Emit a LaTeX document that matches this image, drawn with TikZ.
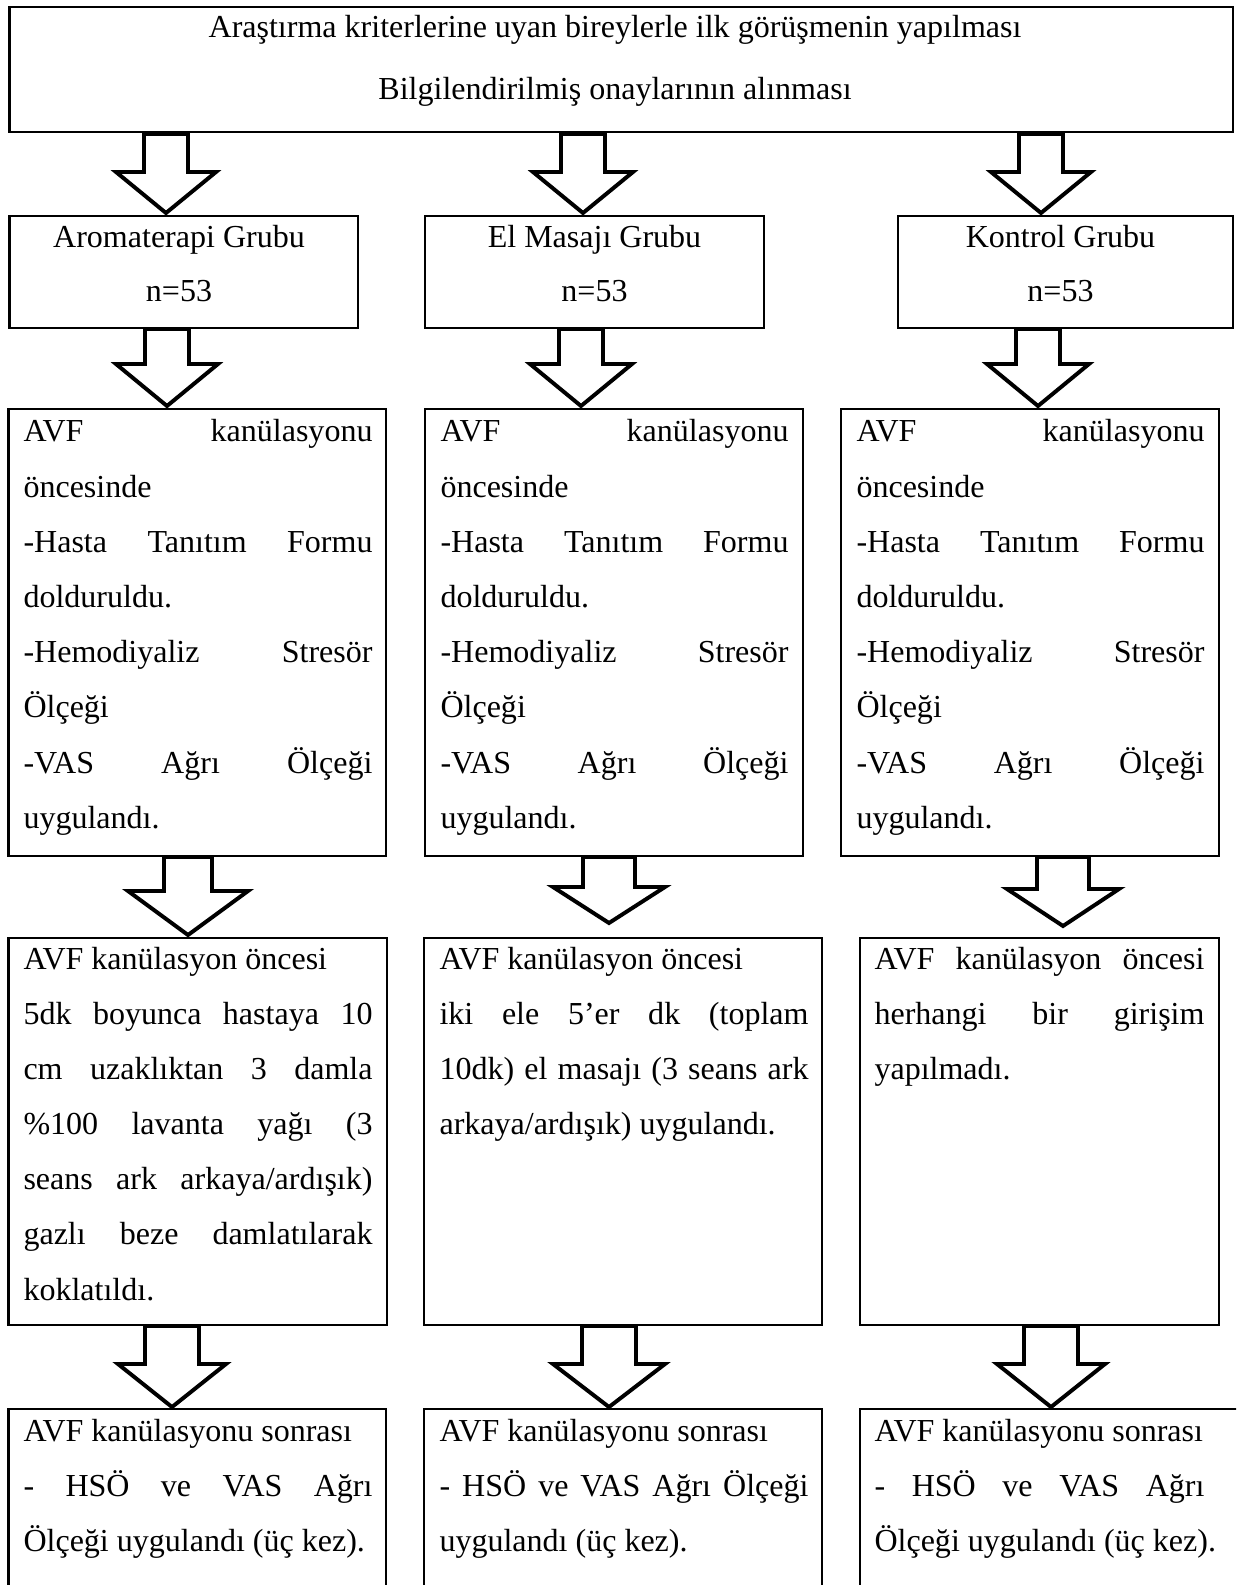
\documentclass[tikz,border=0pt]{standalone}
\usepackage{fontspec}
\setmainfont{Liberation Serif}
\usetikzlibrary{fit}
\newlength\px
\setlength\px{0.381pt}
\newcommand\jl[1]{\hbox to\hsize{\spaceskip=0pt plus 1fil\relax #1}}
\newcommand\nl[1]{\hbox{#1}}
\newcommand\txtblock[2]{\vtop{\hsize=#1\px\relax #2}}
% x, top, shoulder, tip, shaft half width, head half width
\newcommand\barrow[6]{%
  \draw[arrowst] ({#1-#5},#2) -- ({#1+#5},#2) -- ({#1+#5},#3) -- ({#1+#6},#3)
    -- (#1,#4) -- ({#1-#6},#3) -- ({#1-#5},#3) -- cycle;}
\tikzset{
  boxst/.style={draw=black, line width=1pt, inner sep=0pt, fill=white},
  arrowst/.style={draw=black, line width=1.5pt, fill=white},
  txt/.style={inner sep=0pt, font=\fontsize{12.2pt}{21.03pt}\selectfont},
}
\begin{document}
\begin{tikzpicture}[x=0.381pt, y=-0.381pt]
\useasboundingbox (0,0) rectangle (1236,1585);
\clip (0,0) rectangle (1236,1585);
\fill[white] (0,0) rectangle (1236,1585);

% top box
\node[boxst, fit={(9.5,7) (1233,132)}] (topbox) {};
\node[txt, anchor=base] (top1) at (615,38) {Araştırma kriterlerine uyan bireylerle ilk görüşmenin yapılması};
\node[txt, anchor=base] (top2) at (615,100) {Bilgilendirilmiş onaylarının alınması};

% group boxes
\node[boxst, fit={(9.5,216) (358,328)}] (g1) {};
\node[boxst, fit={(425,216) (764,328)}] (g2) {};
\node[boxst, fit={(898,216) (1233,328)}] (g3) {};
\node[txt, anchor=base] (g1a) at (179,248) {Aromaterapi Grubu};
\node[txt, anchor=base] (g1b) at (179,302) {n=53};
\node[txt, anchor=base] (g2a) at (594.5,248) {El Masajı Grubu};
\node[txt, anchor=base] (g2b) at (594.5,302) {n=53};
\node[txt, anchor=base] (g3a) at (1060.5,248) {Kontrol Grubu};
\node[txt, anchor=base] (g3b) at (1060.5,302) {n=53};

% row 3 boxes
\node[boxst, fit={(8.5,409) (386,856)}] (r3a) {};
\node[boxst, fit={(425,409) (803,856)}] (r3b) {};
\node[boxst, fit={(841,409) (1219,856)}] (r3c) {};
\foreach \n/\xx/\w in {r3at/23/349, r3bt/440/348, r3ct/856/348}{
  \node[txt, anchor=base west] (\n) at (\xx,442) {\txtblock{\w}{%
    \jl{AVF kanülasyonu}
    \nl{öncesinde}
    \jl{-Hasta Tanıtım Formu}
    \nl{dolduruldu.}
    \jl{-Hemodiyaliz Stresör}
    \nl{Ölçeği}
    \jl{-VAS Ağrı Ölçeği}
    \nl{uygulandı.}}};
}

% row 4 boxes
\node[boxst, fit={(8.5,938) (387,1325)}] (r4a) {};
\node[boxst, fit={(424,938) (822,1325)}] (r4b) {};
\node[boxst, fit={(860,938) (1219,1325)}] (r4c) {};
\node[txt, anchor=base west] (r4at) at (23,969) {\txtblock{349}{%
  \nl{AVF kanülasyon öncesi}
  \jl{5dk boyunca hastaya 10}
  \jl{cm uzaklıktan 3 damla}
  \jl{\%100 lavanta yağı (3}
  \jl{seans ark arkaya/ardışık)}
  \jl{gazlı beze damlatılarak}
  \nl{koklatıldı.}}};
\node[txt, anchor=base west] (r4bt) at (439,969) {\txtblock{369}{%
  \nl{AVF kanülasyon öncesi}
  \jl{iki ele 5’er dk (toplam}
  \jl{10dk) el masajı (3 seans ark}
  \nl{arkaya/ardışık) uygulandı.}}};
\node[txt, anchor=base west] (r4ct) at (874,969) {\txtblock{330}{%
  \jl{AVF kanülasyon öncesi}
  \jl{herhangi bir girişim}
  \nl{yapılmadı.}}};

% row 5 boxes
\node[boxst, fit={(8.5,1409) (386,1600)}] (r5a) {};
\node[boxst, fit={(424,1409) (822,1600)}] (r5b) {};
\node[boxst, fit={(860,1409) (1250,1600)}] (r5c) {};
\node[txt, anchor=base west] (r5at) at (23,1441) {\txtblock{349}{%
  \nl{AVF kanülasyonu sonrası}
  \jl{- HSÖ ve VAS Ağrı}
  \nl{Ölçeği uygulandı (üç kez).}}};
\node[txt, anchor=base west] (r5bt) at (439,1441) {\txtblock{369}{%
  \nl{AVF kanülasyonu sonrası}
  \jl{- HSÖ ve VAS Ağrı Ölçeği}
  \nl{uygulandı (üç kez).}}};
\node[txt, anchor=base west] (r5ct) at (874,1441) {\txtblock{330}{%
  \nl{AVF kanülasyonu sonrası}
  \jl{- HSÖ ve VAS Ağrı}
  \nl{Ölçeği uygulandı (üç kez).}}};

% block arrows
\barrow{166}{134}{172}{213}{22}{50}
\barrow{583}{134}{172}{213}{22}{50}
\barrow{1041}{134}{172}{213}{22}{50}
\barrow{167}{329}{364}{406}{22}{51}
\barrow{581}{329}{364}{406}{22}{51}
\barrow{1038}{329}{364}{406}{22}{51}
\barrow{188}{857}{891}{935}{24}{60}
\barrow{609}{857}{887}{923}{26}{56}
\barrow{1063}{857}{889}{926}{26}{56}
\barrow{172}{1326}{1364}{1407}{27}{54}
\barrow{609}{1326}{1364}{1407}{27}{56}
\barrow{1051}{1326}{1364}{1407}{27}{54}
\end{tikzpicture}
\end{document}
